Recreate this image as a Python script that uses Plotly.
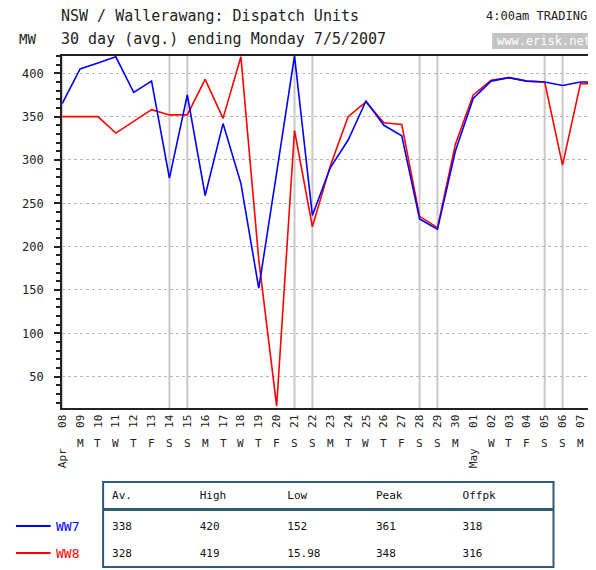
import plotly.graph_objects as go
import pandas as pd

# Данные: суточные средние по блокам WW7 / WW8
dates = ['2007-04-08', '2007-04-09', '2007-04-10', '2007-04-11', '2007-04-12',
         '2007-04-13', '2007-04-14', '2007-04-15', '2007-04-16', '2007-04-17',
         '2007-04-18', '2007-04-19', '2007-04-20', '2007-04-21', '2007-04-22',
         '2007-04-23', '2007-04-24', '2007-04-25', '2007-04-26', '2007-04-27',
         '2007-04-28', '2007-04-29', '2007-04-30', '2007-05-01', '2007-05-02',
         '2007-05-03', '2007-05-04', '2007-05-05', '2007-05-06', '2007-05-07',
         '2007-05-08']

ww7 = [365, 405, 412, 419, 378, 391, 279, 375, 259, 342, 273, 152, 285, 420, 236,
       291, 323, 368, 340, 328, 232, 220, 310, 371, 391, 395, 391, 390, 386, 390, 390]

ww8 = [350, 350, 350, 331, 345, 358, 352, 352, 393, 348, 419, 185, 16, 334, 223,
       293, 350, 367, 343, 341, 235, 222, 318, 375, 392, 395, 391, 390, 294, 388, 388]

stat_headers = ['Av.', 'High', 'Low', 'Peak', 'Offpk']
stats_ww7 = ['338', '420', '152', '361', '318']
stats_ww8 = ['328', '419', '15.98', '348', '316']

W, H = 596, 570
OFF = 8  # отступ body страницы
MONO = 'DejaVu Sans Mono'


def px(x):
    return (x - OFF) / W


def py(y):
    return (H - (y - OFF)) / H


dts = pd.to_datetime(dates)
day_letters = 'MTWTFSS'

fig = go.Figure()

fig.add_trace(go.Scatter(x=dts, y=ww8, mode='lines', name='WW8',
                         line=dict(color='#ff0000', width=1.6)))
fig.add_trace(go.Scatter(x=dts, y=ww7, mode='lines', name='WW7',
                         line=dict(color='#0000ff', width=1.6)))

# Таблица статистики
fig.add_trace(go.Table(
    domain=dict(x=[px(99), px(552)], y=[py(567), py(483)]),
    columnwidth=[89, 89, 90, 88, 99],
    header=dict(values=stat_headers, align='left', height=31,
                font=dict(family=MONO, size=11, color='#111'),
                fill_color='white', line=dict(color='white', width=1)),
    cells=dict(values=[[a, b] for a, b in zip(stats_ww7, stats_ww8)],
               align='left', height=27,
               font=dict(family=MONO, size=11, color='#111'),
               fill_color='white', line=dict(color='white', width=1)),
))

shapes = []
# Вертикальные линии выходных
for d in dts:
    if d.weekday() >= 5:
        shapes.append(dict(type='line', xref='x', yref='y domain', x0=d, x1=d, y0=0, y1=1,
                           line=dict(color='#c8c8c8', width=2), layer='below'))

# Рамка таблицы
shapes.append(dict(type='rect', xref='paper', yref='paper', x0=px(98), x1=px(553),
                   y0=py(567), y1=py(482), line=dict(color='#2f5a78', width=2)))
shapes.append(dict(type='line', xref='paper', yref='paper', x0=px(98), x1=px(553),
                   y0=py(509.5), y1=py(509.5), line=dict(color='#2f5a78', width=3)))
# Легенда
shapes.append(dict(type='line', xref='paper', yref='paper', x0=px(10), x1=px(45),
                   y0=py(526), y1=py(526), line=dict(color='#0000ff', width=2)))
shapes.append(dict(type='line', xref='paper', yref='paper', x0=px(10), x1=px(45),
                   y0=py(553), y1=py(553), line=dict(color='#ff0000', width=2)))
# Серый фон под адресом сайта
shapes.append(dict(type='rect', xref='paper', yref='paper', x0=px(491), x1=px(600),
                   y0=py(49), y1=py(33), line=dict(width=0), fillcolor='#c4c4c4'))

annotations = [
    dict(text='NSW / Wallerawang: Dispatch Units', x=px(53), y=py(15.5), xanchor='left',
         font=dict(family=MONO, size=15, color='#222')),
    dict(text='30 day (avg.) ending Monday 7/5/2007', x=px(53), y=py(39), xanchor='left',
         font=dict(family=MONO, size=15, color='#222')),
    dict(text='MW', x=px(11), y=py(39), xanchor='left',
         font=dict(family=MONO, size=14, color='#222')),
    dict(text='4:00am TRADING', x=px(589), y=py(16), xanchor='right',
         font=dict(family=MONO, size=12, color='#222')),
    dict(text='www.erisk.net', x=px(543), y=py(41), xanchor='center',
         font=dict(family=MONO, size=12, color='white')),
    dict(text='WW7', x=px(48), y=py(526), xanchor='left',
         font=dict(family=MONO, size=13, color='#0000ff')),
    dict(text='WW8', x=px(48), y=py(553), xanchor='left',
         font=dict(family=MONO, size=13, color='#ff0000')),
]

# Буквы дней недели и месяцы под осью
for d in dts:
    if d.day == 1 or d == dts[0]:
        annotations.append(dict(text=d.strftime('%b'), x=d, xref='x', y=py(458),
                                textangle=-90, xanchor='center', yanchor='middle',
                                font=dict(family=MONO, size=11, color='#222')))
    else:
        annotations.append(dict(text=day_letters[d.weekday()], x=d, xref='x', y=py(444),
                                xanchor='center', yanchor='middle',
                                font=dict(family=MONO, size=11, color='#222')))

for a in annotations:
    a.setdefault('xref', 'paper')
    a.setdefault('yref', 'paper')
    a.setdefault('showarrow', False)
    a.setdefault('yanchor', 'middle')

fig.update_layout(
    width=W, height=H,
    margin=dict(l=0, r=0, t=0, b=0),
    paper_bgcolor='white', plot_bgcolor='white',
    showlegend=False,
    shapes=shapes,
    annotations=annotations,
    xaxis=dict(
        domain=[px(56.7), 1],
        type='date',
        range=['2007-04-08', '2007-05-08 07:40'],
        tickvals=dts,
        ticktext=[d.strftime('%d') for d in dts],
        tickangle=-90,
        tickfont=dict(family=MONO, size=11, color='#222'),
        showgrid=False,
        showline=True, linecolor='#222', linewidth=2, mirror=True,
        ticks='',
        zeroline=False,
    ),
    yaxis=dict(
        domain=[py(408.3), py(55.7)],
        range=[13.5, 420.3],
        dtick=50, tick0=0,
        tickfont=dict(family=MONO, size=12, color='#222'),
        ticks='outside', ticklen=6, tickwidth=2, tickcolor='#222',
        ticklabelstandoff=8,
        minor=dict(dtick=10, ticks='outside', ticklen=4, tickwidth=2, tickcolor='#222',
                   showgrid=False),
        showgrid=True, gridcolor='#b8b8b8', griddash='dot', gridwidth=1,
        showline=True, linecolor='#222', linewidth=2,
        zeroline=False,
    ),
)

fig.write_html("out.html")
